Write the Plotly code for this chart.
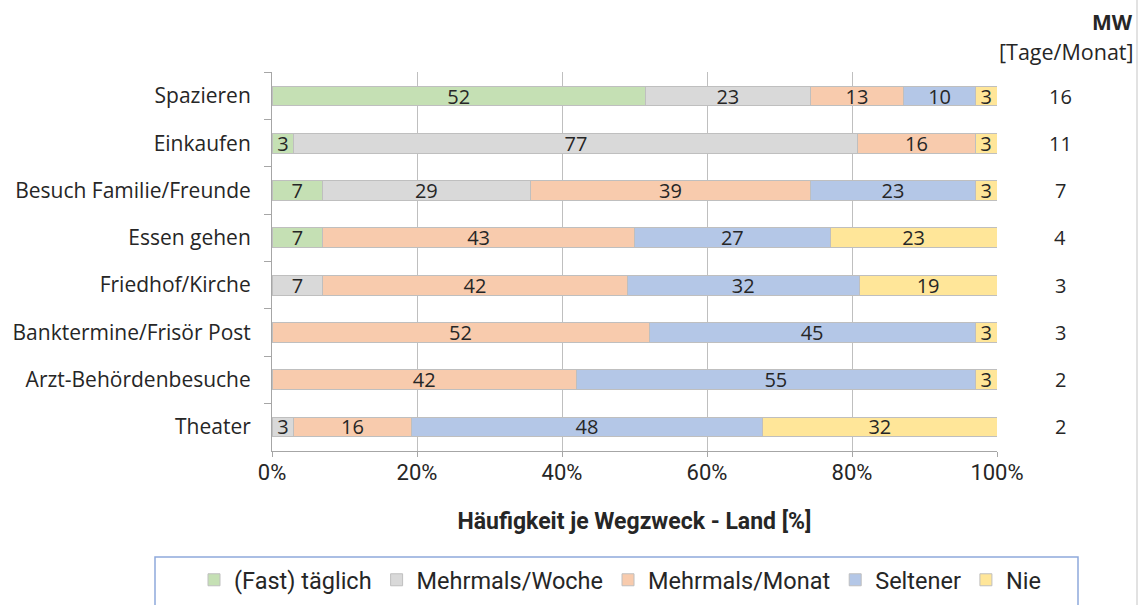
import plotly.graph_objects as go

# Wegzwecke (top to bottom) and mean days per month
categories = ["Spazieren", "Einkaufen", "Besuch Familie/Freunde", "Essen gehen",
              "Friedhof/Kirche", "Banktermine/Frisör Post", "Arzt-Behördenbesuche", "Theater"]
mw_values = [16, 11, 7, 4, 3, 3, 2, 2]

# Share per frequency class [%]; None = class not present
fast_taeglich = [52, 3, 7, 7, None, None, None, None]
mehrmals_woche = [23, 77, 29, None, 7, None, None, 3]
mehrmals_monat = [13, 16, 39, 43, 42, 52, 42, 16]
seltener = [10, None, 23, 27, 32, 45, 55, 48]
nie = [3, 3, 3, 23, 19, 3, 3, 32]

series_names = ["(Fast) täglich", "Mehrmals/Woche", "Mehrmals/Monat", "Seltener", "Nie"]
series_values = [fast_taeglich, mehrmals_woche, mehrmals_monat, seltener, nie]
series_colors = ["#C5E0B4", "#D9D9D9", "#F8CBAD", "#B4C7E7", "#FFE699"]

tick_vals = [0, 20, 40, 60, 80, 100]
tick_text = ["0%", "20%", "40%", "60%", "80%", "100%"]

W, H = 1140, 605
LABEL_FONT = "Open Sans, Noto Sans, sans-serif"
AXIS_FONT = "Roboto, Liberation Sans, sans-serif"
TEXT_COLOR = "#262626"

fig = go.Figure()
for name, vals, color in zip(series_names, series_values, series_colors):
    fig.add_trace(go.Bar(
        name=name,
        y=categories,
        x=vals,
        orientation="h",
        marker=dict(color=color, line=dict(color="#BFBFBF", width=1)),
        text=["" if v is None else str(v) for v in vals],
        textposition="inside",
        insidetextanchor="middle",
        textangle=0,
        textfont=dict(family=LABEL_FONT, size=20, color=TEXT_COLOR),
        width=0.42,
    ))

# MW column on the right
annotations = [
    dict(text="<b>MW</b>", x=1112 / W, y=1 - 22 / H, xref="paper", yref="paper",
         xanchor="center", yanchor="middle", showarrow=False,
         font=dict(family=LABEL_FONT, size=21, color=TEXT_COLOR)),
    dict(text="[Tage/Monat]", x=1066 / W, y=1 - 52 / H, xref="paper", yref="paper",
         xanchor="center", yanchor="middle", showarrow=False,
         font=dict(family=LABEL_FONT, size=21.5, color=TEXT_COLOR)),
]
for cat, mw in zip(categories, mw_values):
    annotations.append(dict(text=str(mw), x=1060 / W, y=cat, xref="paper", yref="y",
                            xanchor="center", yanchor="middle", showarrow=False,
                            font=dict(family=LABEL_FONT, size=20, color=TEXT_COLOR)))

fig.update_layout(
    width=W, height=H,
    margin=dict(l=0, r=0, t=0, b=0, autoexpand=False),
    paper_bgcolor="white", plot_bgcolor="white",
    barmode="stack", barnorm="percent",
    uniformtext=dict(minsize=20, mode="show"),
    showlegend=True,
    legend=dict(orientation="h", x=620 / W, xanchor="center", y=1 - 580 / H, yanchor="middle",
                font=dict(family=AXIS_FONT, size=23.5, color=TEXT_COLOR),
                itemwidth=30, traceorder="normal", bgcolor="rgba(0,0,0,0)"),
    xaxis=dict(domain=[272 / W, 997 / W], range=[0, 100], tickvals=tick_vals, ticktext=tick_text,
               automargin=False,
               showgrid=True, gridcolor="#BFBFBF", gridwidth=1, zeroline=False,
               showline=True, linecolor="#A6A6A6", ticks="outside", ticklen=5, tickcolor="#A6A6A6",
               ticklabelstandoff=-3,
               tickfont=dict(family=AXIS_FONT, size=22, color=TEXT_COLOR),
               title=dict(text="<b>Häufigkeit je Wegzweck - Land [%]</b>", standoff=28,
                          font=dict(family=AXIS_FONT, size=23, color=TEXT_COLOR)),
               fixedrange=True),
    yaxis=dict(domain=[1 - 450.6 / H, 1 - 72.4 / H], autorange="reversed",
               automargin=False,
               categoryorder="array", categoryarray=categories,
               showline=True, linecolor="#A6A6A6", ticks="outside", ticklen=7, tickcolor="#A6A6A6",
               tickson="boundaries", showgrid=False, ticklabelstandoff=16,
               tickfont=dict(family=LABEL_FONT, size=21, color=TEXT_COLOR), fixedrange=True),
    annotations=annotations,
    shapes=[
        dict(type="rect", xref="paper", yref="paper", x0=155 / W, x1=1078 / W,
             y0=-0.05, y1=1 - 557 / H, line=dict(color="#8EA9DB", width=1.5)),
        dict(type="line", xref="paper", yref="paper", x0=1137 / W, x1=1137 / W,
             y0=0, y1=1, line=dict(color="#D9D9D9", width=1.5)),
    ],
)

fig.write_html("out.html")
